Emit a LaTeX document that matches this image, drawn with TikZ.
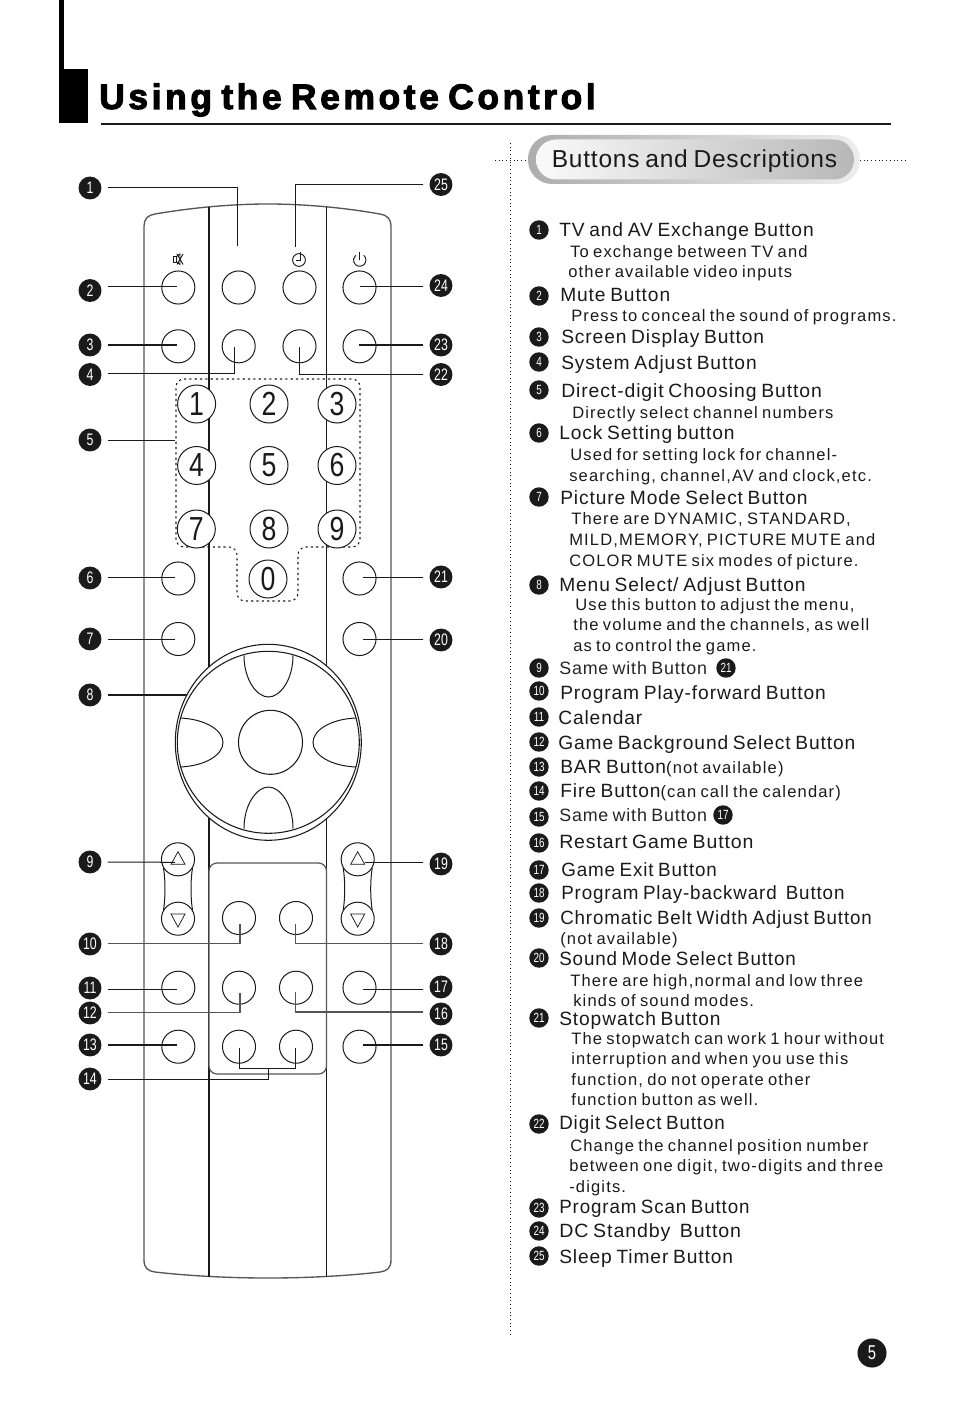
\documentclass[tikz,border=0pt]{standalone}
\usepackage{fontspec}
\usetikzlibrary{shapes.geometric}
\setmainfont{Liberation Sans}
\newfontfamily\hdf[LetterSpace=4.6,WordSpace=0.75]{Liberation Sans}
\newfontfamily\sbf[LetterSpace=7,WordSpace=0.75]{Liberation Sans}
\newfontfamily\ttlf[LetterSpace=10.3,FakeBold=3,WordSpace=0.7]{Liberation Sans Bold}
\newfontfamily\pillf[LetterSpace=3.2,WordSpace=0.75]{Liberation Sans}
\newcommand\hdsize{\hdf\fontsize{14.4}{16}\selectfont}
\newcommand\sbsize{\sbf\fontsize{12.4}{14}\selectfont}
\newcommand\digit[1]{\scalebox{.8}[1]{\fontsize{25}{25}\selectfont #1}}
\newcommand\nar[1]{\scalebox{.74}[1]{#1}}
\newcommand\fit[2]{\scalebox{#1}[1]{#2}}
\definecolor{ink}{HTML}{1A1A1A}
\definecolor{edge}{HTML}{555555}
\tikzset{
  btn/.style={circle,draw=ink,fill=white,line width=.75pt,minimum size=24.8pt,inner sep=0pt},
  numkey/.style={circle,draw=ink,fill=white,line width=.75pt,minimum size=28.5pt,inner sep=0pt,text=ink},
  lb/.style={circle,fill=ink,text=white,minimum size=17.2pt,inner sep=0pt,font=\fontsize{12.5}{13}\selectfont},
  rb/.style={circle,fill=ink,text=white,minimum size=14.6pt,inner sep=0pt,font=\fontsize{10}{11}\selectfont},
  lead/.style={draw=ink,line width=.75pt,shorten <=4.5pt},
  leadb/.style={draw=ink,line width=1.25pt,shorten <=4.5pt},
  leadg/.style={draw=edge,line width=1pt,shorten <=4.5pt},
  hd/.style={anchor=base west,inner sep=0pt,text=ink,font=\hdsize},
  sb/.style={anchor=base west,inner sep=0pt,text=ink,font=\sbsize},
  dots/.style={draw=ink,line width=.6pt,dash pattern=on .7pt off 2.1pt},
  shell/.style={draw=edge,line width=1pt},
  thin/.style={draw=ink,line width=.75pt},
}
\newcommand\hdl[4]{\node[hd] (h#1) at (#2,#3+6) {#4};}
\newcommand\sbl[4]{\node[sb] (s#1) at (#2,#3+5) {#4};}
\begin{document}
\begin{tikzpicture}[x=.75pt,y=-.75pt]
\useasboundingbox (0,0) rectangle (954,1401);
% corner mark and title
\fill[black] (58.5,0) rectangle (63.5,70);
\fill[black] (58.5,69) rectangle (88,123.5);
\node[anchor=base west,inner sep=0pt,text=black,font=\ttlf\fontsize{26.5}{28}\selectfont] (title) at (99,109) {Using the Remote Control};
\draw[ink,line width=1.5pt] (101,124) -- (891,124);
% pill
\draw[dots] (510,143) -- (510,1335);
\draw[dots] (495,160) -- (530,160);
\draw[dots] (860,160) -- (906,160);
\shade[left color=black!32,right color=black!7,rounded corners=24pt*.75] (528,135) rectangle (860,184);
\shade[left color=black!2,right color=black!28,rounded corners=20pt*.75] (536,139.5) rectangle (854,179.5);
\node[anchor=base west,inner sep=0pt,text=ink,font=\pillf\fontsize{18.4}{20}\selectfont] (pill) at (551.5,168) {Buttons and Descriptions};
% remote shell
\draw[shell] (144,1260) -- (144,226) .. controls (144,219) and (148,215) .. (155,214)
  .. controls (190,208) and (230,204) .. (268,204) .. controls (306,204) and (346,208) .. (380,214)
  .. controls (387,215) and (391,219) .. (391,226) -- (391,1260)
  .. controls (391,1268) and (387,1271) .. (380,1272) .. controls (346,1276) and (306,1278) .. (268,1278)
  .. controls (230,1278) and (190,1276) .. (155,1272) .. controls (148,1271) and (144,1268) .. (144,1260) -- cycle;
\draw[ink,line width=1.3pt] (209,207) -- (209,1277);
\draw[ink,line width=.8pt] (326.5,207) -- (326.5,1277);
\draw[dots,line width=.8pt,dash pattern=on 1.6pt off 2.4pt,rounded corners=6pt] (176,379) -- (360,379) -- (360,547) -- (298,547) -- (298,601) -- (237,601) -- (237,547) -- (176,547) -- cycle;
% inner panel
\draw[draw=edge,fill=white,line width=.9pt,rounded corners=6pt] (209,863) rectangle (326.5,1074);
% buttons
\foreach \n/\x/\y in {a1/178.3/287.5,a2/238.7/287.5,a3/299.5/287.5,a4/359.5/287.5,
  b1/178.3/346.3,b2/238.7/346.3,b3/299.5/346.3,b4/359.5/346.3,
  c1/178.3/578.5,c4/359.5/578.5,d1/178.3/639,d4/359.5/639,
  p1/239/918,p2/296/918,q1/178.3/987.7,q2/239/987.7,q3/296/987.7,q4/359.5/987.7,
  r1/178.3/1046.7,r2/239/1046.7,r3/296/1046.7,r4/359.5/1046.7}
  {\node[btn] (k\n) at (\x,\y) {};}
\foreach \n/\x/\y in {1/196.6/404,2/269/404,3/337/404,4/196.6/465.5,5/269/465.5,6/337/465.5,7/196.3/529,8/269/529,9/337/529,0/268/579}
  {\node[numkey] (d\n) at (\x,\y) {\digit{\n}};}
% icons
\draw[ink,line width=.7pt] (173.5,256.5) rectangle (176.5,262);
\draw[ink,line width=.7pt] (176.5,256.5) -- (180,254) -- (180,264.5) -- (176.5,262);
\draw[ink,line width=.7pt] (177,254) -- (183,264.5) (183,254) -- (177,264.5);
\draw[ink,line width=.7pt] (299,260) circle[radius=6.4];
\draw[ink,line width=.7pt] (300,252) -- (300,260) -- (295.5,260);
\draw[ink,line width=.7pt] (363.7,255.3) arc[start angle=50,end angle=-230,radius=4.65pt];
\draw[ink,line width=.7pt] (359.7,252) -- (359.7,260);
% jog wheel
\node[ellipse,draw=ink,fill=white,line width=.8pt,minimum width=139.5pt,minimum height=147pt,inner sep=0pt] (wheel) at (268.3,742.3) {};
\node[circle,draw=ink,fill=white,line width=.8pt,minimum size=136.5pt,inner sep=0pt] (wheeli) at (268.3,742.3) {};
\node[circle,draw=ink,fill=white,line width=.8pt,minimum size=48pt,inner sep=0pt] (ok) at (270.5,742.3) {};
\draw[thin] (244,655.5) .. controls (244,680) and (257,697) .. (268.5,697) .. controls (280,697) and (293,680) .. (293,655.5);
\draw[thin] (244,828.5) .. controls (244,804) and (257,787) .. (268.5,787) .. controls (280,787) and (293,804) .. (293,828.5);
\draw[thin] (180,718) .. controls (205,719) and (223,730) .. (223,742.5) .. controls (223,755) and (205,766) .. (180,767);
\draw[thin] (356,718) .. controls (331,719) and (313,730) .. (313,742.5) .. controls (313,755) and (331,766) .. (356,767);
% up/down capsules
\foreach \c/\x in {l/178,u/357.7}{
  \fill[white] (\x-14,868) rectangle (\x+14,910);
  \draw[thin] (\x-14.5,868) .. controls (\x-12.5,880) and (\x-12.5,898) .. (\x-14.5,910);
  \draw[thin] (\x+14.5,868) .. controls (\x+12.5,880) and (\x+12.5,898) .. (\x+14.5,910);
  \node[btn] (up\c) at (\x,859.3) {};
  \node[btn] (dn\c) at (\x,918.7) {};
  \draw[ink,line width=.55pt] (\x,851.7) -- (\x+7,864.3) -- (\x-7,864.3) -- cycle;
  \draw[ink,line width=.55pt] (\x,927) -- (\x+7,914) -- (\x-7,914) -- cycle;
}
% left badges
\foreach \n/\y in {1/188,2/290.5,3/345,4/374.5,5/440,6/578,7/639,8/695,9/862,10/944,11/988,12/1013,13/1045,14/1079}
  {\node[lb] (L\n) at (90,\y) {\nar{\n}};}
\foreach \n/\y in {25/184.5,24/285.5,23/345,22/374.5,21/577,20/640,19/864,18/944,17/987,16/1014,15/1045}
  {\node[lb] (L\n) at (441,\y) {\nar{\n}};}
% leader ends
\coordinate (e1) at (237.7,246);
\coordinate (e25) at (295.7,246.7);
\coordinate (e2) at (176.7,286.5);
\coordinate (e24) at (360,286.5);
\coordinate (e3) at (176.7,345);
\coordinate (e23) at (359,345);
\coordinate (e4) at (234.7,346.7);
\coordinate (e22) at (299.3,347);
\coordinate (e5) at (175,440);
\coordinate (e6) at (175,577.4);
\coordinate (e21) at (363,577.4);
\coordinate (e7) at (175,639);
\coordinate (e20) at (363,639);
\coordinate (e8) at (187,695);
\coordinate (e9) at (175,862.3);
\coordinate (e19) at (365,862.3);
\coordinate (e10) at (240,924.3);
\coordinate (e18) at (295.7,924.3);
\coordinate (e11) at (176.7,989.3);
\coordinate (e17) at (363,989.3);
\coordinate (e12) at (240,993);
\coordinate (e16) at (295.7,992);
\coordinate (e13) at (176.7,1045);
\coordinate (e15) at (363,1045);
\coordinate (e14) at (268.3,1068.7);
\coordinate (e14a) at (239.7,1048);
\coordinate (e14b) at (295.7,1048);
% leaders
\draw[lead] (L1.east) -| (e1);
\draw[lead] (L25.west) -| (e25);
\draw[lead] (L2.east |- e2) -- (e2);
\draw[lead] (L24.west |- e24) -- (e24);
\draw[leadb] (L3.east |- e3) -- (e3);
\draw[leadb] (L23.west |- e23) -- (e23);
\draw[lead] (L4.east |- 0,373) -| (e4);
\draw[lead] (L22.west) -| (e22);
\draw[lead] (L5.east) -- (e5);
\draw[lead] (L6.east |- e6) -- (e6);
\draw[lead] (L21.west |- e21) -- (e21);
\draw[lead] (L7.east) -- (e7);
\draw[lead] (L20.west |- e20) -- (e20);
\draw[leadb] (L8.east) -- (e8);
\draw[lead] (L9.east) -- (e9);
\draw[lead] (L19.west |- e19) -- (e19);
\draw[leadg] (L10.east |- 0,943.7) -| (e10);
\draw[leadg] (L18.west |- 0,943.7) -| (e18);
\draw[lead] (L11.east |- e11) -- (e11);
\draw[lead] (L17.west |- e17) -- (e17);
\draw[leadg] (L12.east |- 0,1012.7) -| (e12);
\draw[leadg] (L16.west |- 0,1012) -| (e16);
\draw[leadb] (L13.east) -- (e13);
\draw[leadb] (L15.west) -- (e15);
\draw[lead] (L14.east) -| (e14);
\draw[thin] (e14a) |- (e14) -| (e14b);
% right badges
\foreach \n/\y in {1/230,2/296,3/337,4/362,5/390,6/433,7/497,8/585,9/668,10/691,11/717,12/742,13/767,14/791,15/817,16/843,17/870,18/893,19/918,20/958,21/1018,22/1124,23/1208,24/1231,25/1256}
  {\node[rb] (R\n) at (539,\y) {\nar{\n}};}
\node[rb] (Rx21) at (726,668) {\nar{21}};
\node[rb] (Rx17) at (723,815) {\nar{17}};
% descriptions
\hdl{a}{559}{231}{TV and AV Exchange Button}
\sbl{a1}{570}{253}{To exchange between TV and}
\sbl{a2}{568}{273}{other available video inputs}
\hdl{b}{560}{295}{Mute Button}
\sbl{b1}{571}{316}{Press to conceal the sound of programs.}
\hdl{c}{561}{338}{Screen Display Button}
\hdl{d}{561}{363}{System Adjust Button}
\hdl{e}{561}{391}{\fit{1.01}{Direct-digit Choosing Button}}
\sbl{e1}{572}{413}{Directly select channel numbers}
\hdl{f}{559}{433}{Lock Setting button}
\sbl{f1}{570}{455}{Used for setting lock for channel-}
\sbl{f2}{569}{476}{searching, channel,AV and clock,etc.}
\hdl{g}{560}{498}{Picture Mode Select Button}
\sbl{g1}{571}{519}{There are DYNAMIC, STANDARD,}
\sbl{g2}{569}{540}{MILD,MEMORY, PICTURE MUTE and}
\sbl{g3}{569}{561}{COLOR MUTE six modes of picture.}
\hdl{h}{559}{585}{Menu Select/ Adjust Button}
\sbl{h1}{575}{605}{Use this button to adjust the menu,}
\sbl{h2}{573}{625}{the volume and the channels, as well}
\sbl{h3}{573}{646}{as to control the game.}
\node[hd,text=black!85,font=\hdf\fontsize{13.4}{15}\selectfont] (hi) at (559,674) {Same with Button};
\hdl{j}{560}{693}{Program Play-forward Button}
\hdl{k}{558}{718}{Calendar}
\hdl{l}{558}{743}{Game Background Select Button}
\hdl{m}{560}{767}{BAR Button{\sbsize(not available)}}
\hdl{n}{560}{791}{Fire Button{\sbsize(can call the calendar)}}
\node[hd,text=black!85,font=\hdf\fontsize{13.4}{15}\selectfont] (ho) at (559,821) {Same with Button};
\hdl{p}{559}{842}{\fit{1.015}{Restart Game Button}}
\hdl{q}{561}{870}{\fit{.98}{Game Exit Button}}
\hdl{r}{561}{893}{\fit{.979}{Program Play-backward\ \ Button}}
\hdl{s}{560}{918}{\fit{.976}{Chromatic Belt Width Adjust Button}}
\sbl{s1}{560}{939}{(not available)}
\hdl{t}{559}{959}{\fit{.98}{Sound Mode Select Button}}
\sbl{t1}{570}{981}{There are high,normal and low three}
\sbl{t2}{573}{1001}{kinds of sound modes.}
\hdl{u}{559}{1019}{Stopwatch Button}
\sbl{u1}{571}{1039}{The stopwatch can work 1 hour without}
\sbl{u2}{571}{1059}{interruption and when you use this}
\sbl{u3}{571}{1080}{function, do not operate other}
\sbl{u4}{571}{1100}{function button as well.}
\hdl{v}{559}{1123}{\fit{.98}{Digit Select Button}}
\sbl{v1}{570}{1146}{Change the channel position number}
\sbl{v2}{569}{1166}{between one digit, two-digits and three}
\sbl{v3}{569}{1187}{-digits.}
\hdl{w}{559}{1207}{\fit{.978}{Program Scan Button}}
\hdl{x}{559}{1231}{\fit{1.02}{DC Standby\ \ Button}}
\hdl{y}{559}{1257}{Sleep Timer Button}
% page number
\node[circle,fill=ink,text=white,minimum size=21.8pt,inner sep=0pt,font=\fontsize{15}{16}\selectfont] (page) at (872,1353) {\nar{5}};
\end{tikzpicture}
\end{document}
